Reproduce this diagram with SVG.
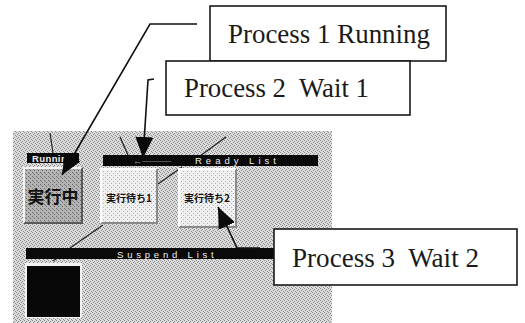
<svg xmlns="http://www.w3.org/2000/svg" width="525" height="323" viewBox="0 0 525 323">
  <style>
    .callout { fill: #ffffff; stroke: #1a1a1a; stroke-width: 1.6; }
    .ctext { font-family: "Liberation Serif", "DejaVu Serif", serif; font-size: 27px; fill: #1a1a1a; }
    .bar { fill: #0a0a0a; }
    .bartext { font-family: "Liberation Sans", "DejaVu Sans", sans-serif; font-size: 9.5px; fill: #f0f0f0; }
    .tile-jp { font-family: "Noto Sans CJK JP", "Noto Sans CJK SC", sans-serif; font-weight: bold; fill: #111111; text-anchor: middle; }
    .conn { fill: none; stroke: #111111; stroke-width: 1.6; }
    .thin { fill: none; stroke: #222222; stroke-width: 1.2; }
  </style>
  <defs>
    <pattern id="dither" width="4" height="4" patternUnits="userSpaceOnUse">
      <rect width="4" height="4" fill="#dcdcdc"/>
      <rect x="0" y="0" width="1" height="1" fill="#8a8a8a"/>
      <rect x="2" y="1" width="1" height="1" fill="#8a8a8a"/>
      <rect x="1" y="2" width="1" height="1" fill="#8a8a8a"/>
      <rect x="3" y="3" width="1" height="1" fill="#8a8a8a"/>
    </pattern>
    <pattern id="dither2" width="4" height="4" patternUnits="userSpaceOnUse">
      <rect width="4" height="4" fill="#b4b4b4"/>
      <rect x="0" y="0" width="1" height="1" fill="#6a6a6a"/>
      <rect x="2" y="2" width="1" height="1" fill="#6a6a6a"/>
      <rect x="1" y="1" width="1" height="1" fill="#8a8a8a"/>
    </pattern>
    <pattern id="dither3" width="4" height="4" patternUnits="userSpaceOnUse">
      <rect width="4" height="4" fill="#f0f0f0"/>
      <rect x="1" y="1" width="1" height="1" fill="#b0b0b0"/>
      <rect x="3" y="3" width="1" height="1" fill="#b0b0b0"/>
    </pattern>
    <marker id="arrow" markerUnits="userSpaceOnUse" markerWidth="22" markerHeight="18" refX="21" refY="9" orient="auto">
      <path d="M0,0 L21,9 L0,18 z" fill="#0a0a0a"/>
    </marker>
  </defs>

  <rect width="525" height="323" fill="#ffffff"/>

  <g id="panel">
    <rect x="13" y="131" width="319" height="192" fill="url(#dither)"/>
  </g>

  <g id="screen-lines">
    <line class="thin" x1="50" y1="133" x2="53" y2="153"/>
    <line class="thin" x1="120" y1="137" x2="128" y2="155"/>
    <line class="thin" x1="226" y1="137" x2="200" y2="156"/>
    <line class="thin" x1="158" y1="184" x2="182" y2="167"/>
    <line class="thin" x1="103" y1="225" x2="70" y2="248"/>
    <line class="thin" x1="53" y1="261" x2="59" y2="257"/>
  </g>

  <g id="running-bar">
    <rect class="bar" x="27" y="153" width="52" height="10"/>
    <text class="bartext" x="32" y="161.5" font-weight="bold" letter-spacing="0.4">Running</text>
  </g>

  <g id="ready-bar">
    <rect class="bar" x="103" y="155" width="215" height="11"/>
    <text class="bartext" x="133" y="164" style="fill:#8f8f8f">←―――</text>
    <text class="bartext" x="195" y="164" letter-spacing="4">Ready List</text>
  </g>

  <g id="suspend-bar">
    <rect class="bar" x="26" y="248" width="260" height="11"/>
    <text class="bartext" x="117" y="257.5" letter-spacing="3.8">Suspend List</text>
  </g>

  <g id="tile-running">
    <rect x="23" y="167" width="60" height="57" fill="url(#dither2)"/>
    <path d="M23,167 H83 L81,169 H25 V222 L23,224 z" fill="#f4f4f4"/>
    <path d="M83,167 V224 H23 L25,222 H81 V169 z" fill="#5a5a5a"/>
    <text class="tile-jp" x="53" y="203" font-size="17">実行中</text>
  </g>

  <g id="tile-wait1">
    <rect x="100" y="168" width="58" height="56" fill="url(#dither3)"/>
    <path d="M100,168 H158 L156,170 H102 V222 L100,224 z" fill="#ffffff"/>
    <path d="M158,168 V224 H100 L102,222 H156 V170 z" fill="#8a8a8a"/>
    <text class="tile-jp" x="129" y="202" font-size="10">実行待ち1</text>
  </g>

  <g id="tile-wait2">
    <rect x="178" y="168" width="59" height="60" fill="url(#dither3)"/>
    <path d="M178,168 H237 L235,170 H180 V226 L178,228 z" fill="#ffffff"/>
    <path d="M237,168 V228 H178 L180,226 H235 V170 z" fill="#8a8a8a"/>
    <text class="tile-jp" x="207" y="202" font-size="10">実行待ち2</text>
  </g>

  <g id="tile-suspended">
    <rect x="25" y="263" width="57" height="55" fill="#f2f2f2"/>
    <rect x="27" y="266" width="53" height="51" fill="#080808"/>
  </g>

  <g id="callout-1">
    <rect class="callout" x="210" y="6" width="236" height="55"/>
    <text class="ctext" x="228" y="43" textLength="202" lengthAdjust="spacingAndGlyphs">Process 1 Running</text>
  </g>

  <g id="callout-2">
    <rect class="callout" x="166" y="61" width="244" height="54"/>
    <text class="ctext" x="184" y="97" textLength="185" lengthAdjust="spacingAndGlyphs" xml:space="preserve">Process 2  Wait 1</text>
  </g>

  <g id="callout-3">
    <rect class="callout" x="274" y="229" width="243" height="56"/>
    <text class="ctext" x="292" y="267" textLength="187" lengthAdjust="spacingAndGlyphs" xml:space="preserve">Process 3  Wait 2</text>
  </g>

  <g id="connectors">
    <polyline class="conn" points="197,24 150,24 62,175" marker-end="url(#arrow)"/>
    <polyline class="conn" points="154,79 148,80 143,158" marker-end="url(#arrow)"/>
    <polyline class="conn" points="260,248 237,248 218,207" marker-end="url(#arrow)"/>
  </g>
</svg>
